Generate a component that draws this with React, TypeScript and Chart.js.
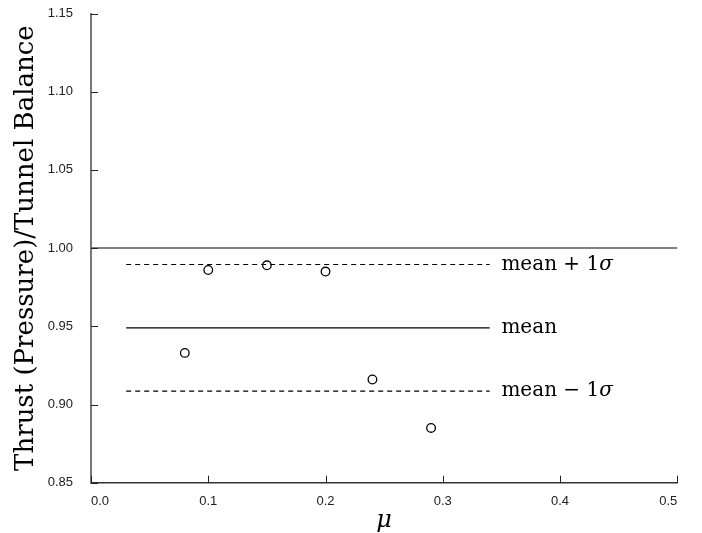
import React, { useEffect, useRef } from "react";
import { Chart, registerables } from "chart.js";

Chart.register(...registerables);

// ---- data ----
const muValues = [0.08, 0.10, 0.15, 0.20, 0.24, 0.29];
const ratioValues = [0.933, 0.986, 0.989, 0.985, 0.916, 0.885];
const meanValue = 0.949;
const sigmaValue = 0.0405;
const bandStart = 0.03;
const bandEnd = 0.34;
const referenceValue = 1.0;
const referenceRange = [0, 0.5];
const bandLabelTexts = ["mean + 1σ", "mean", "mean − 1σ"];
const bandLabelValues = [meanValue + sigmaValue, meanValue, meanValue - sigmaValue];
const bandLabelX = 0.35;
const xTickRange = [0, 0.5, 0.1];
const yTickRange = [0.85, 1.15, 0.05];
const yTitle = "Thrust (Pressure)/Tunnel Balance";
const xTitle = "μ";

const annotate = {
  id: "annotate",
  afterDatasetsDraw(chart: any) {
    const { ctx, chartArea } = chart;
    const xs = chart.scales.x;
    const ys = chart.scales.y;
    ctx.save();
    ctx.strokeStyle = "#222";
    ctx.lineWidth = 1;
    ys.ticks.forEach((t: any) => {
      const py = Math.round(ys.getPixelForValue(t.value)) + 0.5;
      ctx.beginPath();
      ctx.moveTo(chartArea.left, py);
      ctx.lineTo(chartArea.left + 7, py);
      ctx.stroke();
    });
    xs.ticks.forEach((t: any) => {
      const px = Math.round(xs.getPixelForValue(t.value)) + 0.5;
      ctx.beginPath();
      ctx.moveTo(px, chartArea.bottom);
      ctx.lineTo(px, chartArea.bottom - 7);
      ctx.stroke();
    });
    ctx.fillStyle = "#000";
    ctx.textBaseline = "middle";
    ctx.textAlign = "left";
    bandLabelTexts.forEach((txt, i) => {
      const px = xs.getPixelForValue(bandLabelX);
      const py = ys.getPixelForValue(bandLabelValues[i]);
      let main = txt;
      let tail = "";
      if (txt.endsWith("σ")) {
        main = txt.slice(0, -1);
        tail = "σ";
      }
      ctx.font = "20px 'DejaVu Serif'";
      ctx.fillText(main, px, py);
      const w = ctx.measureText(main).width;
      if (tail) {
        ctx.font = "italic 20px 'DejaVu Serif'";
        ctx.fillText(tail, px + w, py);
      }
    });
    ctx.restore();
  },
};

export default function App() {
  const ref = useRef<HTMLCanvasElement>(null);
  useEffect(() => {
    if (!ref.current) return;
    const chart = new Chart(ref.current, {
      type: "scatter",
      data: {
        datasets: [
          {
            data: referenceRange.map((x) => ({ x, y: referenceValue })),
            showLine: true,
            borderColor: "#555",
            borderWidth: 1.5,
            pointRadius: 0,
          },
          {
            data: [bandStart, bandEnd].map((x) => ({ x, y: meanValue + sigmaValue })),
            showLine: true,
            borderColor: "#000",
            borderWidth: 1.2,
            borderDash: [5, 4],
            pointRadius: 0,
          },
          {
            data: [bandStart, bandEnd].map((x) => ({ x, y: meanValue })),
            showLine: true,
            borderColor: "#000",
            borderWidth: 1.3,
            pointRadius: 0,
          },
          {
            data: [bandStart, bandEnd].map((x) => ({ x, y: meanValue - sigmaValue })),
            showLine: true,
            borderColor: "#000",
            borderWidth: 1.2,
            borderDash: [5, 4],
            pointRadius: 0,
          },
          {
            data: muValues.map((x, i) => ({ x, y: ratioValues[i] })),
            showLine: false,
            borderColor: "#000",
            backgroundColor: "rgba(255,255,255,0)",
            borderWidth: 1.3,
            pointRadius: 4.3,
            pointStyle: "circle",
          },
        ],
      },
      options: {
        animation: false,
        responsive: true,
        maintainAspectRatio: false,
        layout: { padding: { left: 0, top: 13.5, right: 24.7, bottom: 0 } },
        plugins: { legend: { display: false }, tooltip: { enabled: false } },
        scales: {
          x: {
            type: "linear",
            min: xTickRange[0],
            max: xTickRange[1],
            grid: { display: false, drawTicks: false },
            border: { display: true, color: "#333", width: 1.5 },
            ticks: {
              stepSize: xTickRange[2],
              align: "inner",
              padding: 11,
              color: "#222",
              font: { family: "'Liberation Sans'", size: 13 },
              callback: (v: any) => Number(v).toFixed(1),
            },
            title: {
              display: true,
              text: xTitle,
              color: "#000",
              padding: 0,
              font: { family: "'DejaVu Serif'", size: 24, style: "italic", lineHeight: 1 },
            },
            afterFit: (s: any) => {
              s.height = 533 - 482.7;
              s.paddingLeft = 0;
              s.paddingRight = 0;
            },
          },
          y: {
            type: "linear",
            min: yTickRange[0],
            max: yTickRange[1],
            grid: { display: false, drawTicks: false },
            border: { display: true, color: "#777", width: 2 },
            ticks: {
              stepSize: yTickRange[2],
              padding: 18,
              color: "#222",
              font: { family: "'Liberation Sans'", size: 13 },
              callback: (v: any) => Number(v).toFixed(2),
            },
            title: {
              display: true,
              text: yTitle,
              color: "#000",
              padding: { top: 10.5, bottom: 0 },
              font: { family: "'DejaVu Serif'", size: 26, lineHeight: 1.2 },
            },
            afterFit: (s: any) => {
              s.width = 91;
              s.paddingTop = 0;
              s.paddingBottom = 0;
            },
          },
        },
      },
      plugins: [annotate],
    });
    return () => chart.destroy();
  }, []);
  return (
    <div style={{ position: "absolute", left: 0, top: 0, width: 702, height: 533, background: "#fff" }}>
      <canvas ref={ref} />
    </div>
  );
}
